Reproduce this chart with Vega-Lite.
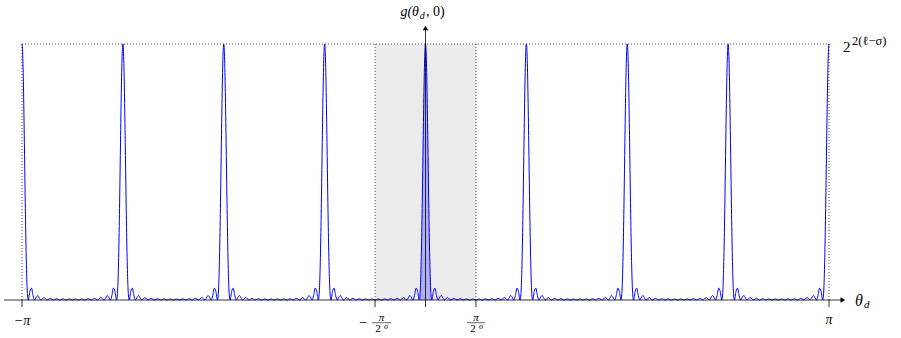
{
"$schema": "https://vega.github.io/schema/vega-lite/v6.json",
"width": 901, "height": 338, "autosize": {"type": "none"}, "padding": 0,
"background": "white",
"config": {"view": {"stroke": null}, "axis": {"disable": true}, "text": {"font": "Liberation Serif", "baseline": "middle", "color": "black"}},
"data": {"values": [{}]},
"datasets": {"g": [
{"x":0,"y":256},{"x":0.125,"y":243.16},{"x":0.25,"y":207.67},{"x":0.375,"y":157.72},{"x":0.5,"y":104.09},{"x":0.625,"y":56.96},{"x":0.75,"y":23.22},{"x":0.875,"y":5.01},{"x":1,"y":0},{"x":1.25,"y":8.47},{"x":1.5,"y":11.87},{"x":1.75,"y":4.41},{"x":2,"y":0},{"x":2.25,"y":2.74},{"x":2.5,"y":4.5},{"x":2.75,"y":1.89},{"x":3,"y":0},{"x":3.25,"y":1.41},{"x":3.5,"y":2.48},{"x":3.75,"y":1.11},{"x":4,"y":0},{"x":4.25,"y":0.91},{"x":4.5,"y":1.67},{"x":4.75,"y":0.78},{"x":5,"y":0},{"x":5.25,"y":0.68},{"x":5.5,"y":1.29},{"x":5.75,"y":0.61},{"x":6,"y":0},{"x":6.25,"y":0.56},{"x":6.5,"y":1.09},{"x":6.75,"y":0.53},{"x":7,"y":0},{"x":7.25,"y":0.51},{"x":7.5,"y":1.01},{"x":7.75,"y":0.5},{"x":8,"y":0},{"x":8.25,"y":0.5},{"x":8.5,"y":1.01},{"x":8.75,"y":0.51},{"x":9,"y":0},{"x":9.25,"y":0.53},{"x":9.5,"y":1.09},{"x":9.75,"y":0.56},{"x":10,"y":0},{"x":10.25,"y":0.61},{"x":10.5,"y":1.29},{"x":10.75,"y":0.68},{"x":11,"y":0},{"x":11.25,"y":0.78},{"x":11.5,"y":1.67},{"x":11.75,"y":0.91},{"x":12,"y":0},{"x":12.25,"y":1.11},{"x":12.5,"y":2.48},{"x":12.75,"y":1.41},{"x":13,"y":0},{"x":13.25,"y":1.89},{"x":13.5,"y":4.5},{"x":13.75,"y":2.74},{"x":14,"y":0},{"x":14.25,"y":4.41},{"x":14.5,"y":11.87},{"x":14.75,"y":8.47},{"x":15,"y":0},{"x":15.125,"y":5.01},{"x":15.25,"y":23.22},{"x":15.375,"y":56.96},{"x":15.5,"y":104.09},{"x":15.625,"y":157.72},{"x":15.75,"y":207.67},{"x":15.875,"y":243.16},
{"x":16,"y":256},{"x":16.125,"y":243.16},{"x":16.25,"y":207.67},{"x":16.375,"y":157.72},{"x":16.5,"y":104.09},{"x":16.625,"y":56.96},{"x":16.75,"y":23.22},{"x":16.875,"y":5.01},{"x":17,"y":0},{"x":17.25,"y":8.47},{"x":17.5,"y":11.87},{"x":17.75,"y":4.41},{"x":18,"y":0},{"x":18.25,"y":2.74},{"x":18.5,"y":4.5},{"x":18.75,"y":1.89},{"x":19,"y":0},{"x":19.25,"y":1.41},{"x":19.5,"y":2.48},{"x":19.75,"y":1.11},{"x":20,"y":0},{"x":20.25,"y":0.91},{"x":20.5,"y":1.67},{"x":20.75,"y":0.78},{"x":21,"y":0},{"x":21.25,"y":0.68},{"x":21.5,"y":1.29},{"x":21.75,"y":0.61},{"x":22,"y":0},{"x":22.25,"y":0.56},{"x":22.5,"y":1.09},{"x":22.75,"y":0.53},{"x":23,"y":0},{"x":23.25,"y":0.51},{"x":23.5,"y":1.01},{"x":23.75,"y":0.5},{"x":24,"y":0},{"x":24.25,"y":0.5},{"x":24.5,"y":1.01},{"x":24.75,"y":0.51},{"x":25,"y":0},{"x":25.25,"y":0.53},{"x":25.5,"y":1.09},{"x":25.75,"y":0.56},{"x":26,"y":0},{"x":26.25,"y":0.61},{"x":26.5,"y":1.29},{"x":26.75,"y":0.68},{"x":27,"y":0},{"x":27.25,"y":0.78},{"x":27.5,"y":1.67},{"x":27.75,"y":0.91},{"x":28,"y":0},{"x":28.25,"y":1.11},{"x":28.5,"y":2.48},{"x":28.75,"y":1.41},{"x":29,"y":0},{"x":29.25,"y":1.89},{"x":29.5,"y":4.5},{"x":29.75,"y":2.74},{"x":30,"y":0},{"x":30.25,"y":4.41},{"x":30.5,"y":11.87},{"x":30.75,"y":8.47},{"x":31,"y":0},{"x":31.125,"y":5.01},{"x":31.25,"y":23.22},{"x":31.375,"y":56.96},{"x":31.5,"y":104.09},{"x":31.625,"y":157.72},{"x":31.75,"y":207.67},{"x":31.875,"y":243.16},
{"x":32,"y":256},{"x":32.125,"y":243.16},{"x":32.25,"y":207.67},{"x":32.375,"y":157.72},{"x":32.5,"y":104.09},{"x":32.625,"y":56.96},{"x":32.75,"y":23.22},{"x":32.875,"y":5.01},{"x":33,"y":0},{"x":33.25,"y":8.47},{"x":33.5,"y":11.87},{"x":33.75,"y":4.41},{"x":34,"y":0},{"x":34.25,"y":2.74},{"x":34.5,"y":4.5},{"x":34.75,"y":1.89},{"x":35,"y":0},{"x":35.25,"y":1.41},{"x":35.5,"y":2.48},{"x":35.75,"y":1.11},{"x":36,"y":0},{"x":36.25,"y":0.91},{"x":36.5,"y":1.67},{"x":36.75,"y":0.78},{"x":37,"y":0},{"x":37.25,"y":0.68},{"x":37.5,"y":1.29},{"x":37.75,"y":0.61},{"x":38,"y":0},{"x":38.25,"y":0.56},{"x":38.5,"y":1.09},{"x":38.75,"y":0.53},{"x":39,"y":0},{"x":39.25,"y":0.51},{"x":39.5,"y":1.01},{"x":39.75,"y":0.5},{"x":40,"y":0},{"x":40.25,"y":0.5},{"x":40.5,"y":1.01},{"x":40.75,"y":0.51},{"x":41,"y":0},{"x":41.25,"y":0.53},{"x":41.5,"y":1.09},{"x":41.75,"y":0.56},{"x":42,"y":0},{"x":42.25,"y":0.61},{"x":42.5,"y":1.29},{"x":42.75,"y":0.68},{"x":43,"y":0},{"x":43.25,"y":0.78},{"x":43.5,"y":1.67},{"x":43.75,"y":0.91},{"x":44,"y":0},{"x":44.25,"y":1.11},{"x":44.5,"y":2.48},{"x":44.75,"y":1.41},{"x":45,"y":0},{"x":45.25,"y":1.89},{"x":45.5,"y":4.5},{"x":45.75,"y":2.74},{"x":46,"y":0},{"x":46.25,"y":4.41},{"x":46.5,"y":11.87},{"x":46.75,"y":8.47},{"x":47,"y":0},{"x":47.125,"y":5.01},{"x":47.25,"y":23.22},{"x":47.375,"y":56.96},{"x":47.5,"y":104.09},{"x":47.625,"y":157.72},{"x":47.75,"y":207.67},{"x":47.875,"y":243.16},
{"x":48,"y":256},{"x":48.125,"y":243.16},{"x":48.25,"y":207.67},{"x":48.375,"y":157.72},{"x":48.5,"y":104.09},{"x":48.625,"y":56.96},{"x":48.75,"y":23.22},{"x":48.875,"y":5.01},{"x":49,"y":0},{"x":49.25,"y":8.47},{"x":49.5,"y":11.87},{"x":49.75,"y":4.41},{"x":50,"y":0},{"x":50.25,"y":2.74},{"x":50.5,"y":4.5},{"x":50.75,"y":1.89},{"x":51,"y":0},{"x":51.25,"y":1.41},{"x":51.5,"y":2.48},{"x":51.75,"y":1.11},{"x":52,"y":0},{"x":52.25,"y":0.91},{"x":52.5,"y":1.67},{"x":52.75,"y":0.78},{"x":53,"y":0},{"x":53.25,"y":0.68},{"x":53.5,"y":1.29},{"x":53.75,"y":0.61},{"x":54,"y":0},{"x":54.25,"y":0.56},{"x":54.5,"y":1.09},{"x":54.75,"y":0.53},{"x":55,"y":0},{"x":55.25,"y":0.51},{"x":55.5,"y":1.01},{"x":55.75,"y":0.5},{"x":56,"y":0},{"x":56.25,"y":0.5},{"x":56.5,"y":1.01},{"x":56.75,"y":0.51},{"x":57,"y":0},{"x":57.25,"y":0.53},{"x":57.5,"y":1.09},{"x":57.75,"y":0.56},{"x":58,"y":0},{"x":58.25,"y":0.61},{"x":58.5,"y":1.29},{"x":58.75,"y":0.68},{"x":59,"y":0},{"x":59.25,"y":0.78},{"x":59.5,"y":1.67},{"x":59.75,"y":0.91},{"x":60,"y":0},{"x":60.25,"y":1.11},{"x":60.5,"y":2.48},{"x":60.75,"y":1.41},{"x":61,"y":0},{"x":61.25,"y":1.89},{"x":61.5,"y":4.5},{"x":61.75,"y":2.74},{"x":62,"y":0},{"x":62.25,"y":4.41},{"x":62.5,"y":11.87},{"x":62.75,"y":8.47},{"x":63,"y":0},{"x":63.125,"y":5.01},{"x":63.25,"y":23.22},{"x":63.375,"y":56.96},{"x":63.5,"y":104.09},{"x":63.625,"y":157.72},{"x":63.75,"y":207.67},{"x":63.875,"y":243.16},
{"x":64,"y":256},{"x":64.125,"y":243.16},{"x":64.25,"y":207.67},{"x":64.375,"y":157.72},{"x":64.5,"y":104.09},{"x":64.625,"y":56.96},{"x":64.75,"y":23.22},{"x":64.875,"y":5.01},{"x":65,"y":0},{"x":65.25,"y":8.47},{"x":65.5,"y":11.87},{"x":65.75,"y":4.41},{"x":66,"y":0},{"x":66.25,"y":2.74},{"x":66.5,"y":4.5},{"x":66.75,"y":1.89},{"x":67,"y":0},{"x":67.25,"y":1.41},{"x":67.5,"y":2.48},{"x":67.75,"y":1.11},{"x":68,"y":0},{"x":68.25,"y":0.91},{"x":68.5,"y":1.67},{"x":68.75,"y":0.78},{"x":69,"y":0},{"x":69.25,"y":0.68},{"x":69.5,"y":1.29},{"x":69.75,"y":0.61},{"x":70,"y":0},{"x":70.25,"y":0.56},{"x":70.5,"y":1.09},{"x":70.75,"y":0.53},{"x":71,"y":0},{"x":71.25,"y":0.51},{"x":71.5,"y":1.01},{"x":71.75,"y":0.5},{"x":72,"y":0},{"x":72.25,"y":0.5},{"x":72.5,"y":1.01},{"x":72.75,"y":0.51},{"x":73,"y":0},{"x":73.25,"y":0.53},{"x":73.5,"y":1.09},{"x":73.75,"y":0.56},{"x":74,"y":0},{"x":74.25,"y":0.61},{"x":74.5,"y":1.29},{"x":74.75,"y":0.68},{"x":75,"y":0},{"x":75.25,"y":0.78},{"x":75.5,"y":1.67},{"x":75.75,"y":0.91},{"x":76,"y":0},{"x":76.25,"y":1.11},{"x":76.5,"y":2.48},{"x":76.75,"y":1.41},{"x":77,"y":0},{"x":77.25,"y":1.89},{"x":77.5,"y":4.5},{"x":77.75,"y":2.74},{"x":78,"y":0},{"x":78.25,"y":4.41},{"x":78.5,"y":11.87},{"x":78.75,"y":8.47},{"x":79,"y":0},{"x":79.125,"y":5.01},{"x":79.25,"y":23.22},{"x":79.375,"y":56.96},{"x":79.5,"y":104.09},{"x":79.625,"y":157.72},{"x":79.75,"y":207.67},{"x":79.875,"y":243.16},
{"x":80,"y":256},{"x":80.125,"y":243.16},{"x":80.25,"y":207.67},{"x":80.375,"y":157.72},{"x":80.5,"y":104.09},{"x":80.625,"y":56.96},{"x":80.75,"y":23.22},{"x":80.875,"y":5.01},{"x":81,"y":0},{"x":81.25,"y":8.47},{"x":81.5,"y":11.87},{"x":81.75,"y":4.41},{"x":82,"y":0},{"x":82.25,"y":2.74},{"x":82.5,"y":4.5},{"x":82.75,"y":1.89},{"x":83,"y":0},{"x":83.25,"y":1.41},{"x":83.5,"y":2.48},{"x":83.75,"y":1.11},{"x":84,"y":0},{"x":84.25,"y":0.91},{"x":84.5,"y":1.67},{"x":84.75,"y":0.78},{"x":85,"y":0},{"x":85.25,"y":0.68},{"x":85.5,"y":1.29},{"x":85.75,"y":0.61},{"x":86,"y":0},{"x":86.25,"y":0.56},{"x":86.5,"y":1.09},{"x":86.75,"y":0.53},{"x":87,"y":0},{"x":87.25,"y":0.51},{"x":87.5,"y":1.01},{"x":87.75,"y":0.5},{"x":88,"y":0},{"x":88.25,"y":0.5},{"x":88.5,"y":1.01},{"x":88.75,"y":0.51},{"x":89,"y":0},{"x":89.25,"y":0.53},{"x":89.5,"y":1.09},{"x":89.75,"y":0.56},{"x":90,"y":0},{"x":90.25,"y":0.61},{"x":90.5,"y":1.29},{"x":90.75,"y":0.68},{"x":91,"y":0},{"x":91.25,"y":0.78},{"x":91.5,"y":1.67},{"x":91.75,"y":0.91},{"x":92,"y":0},{"x":92.25,"y":1.11},{"x":92.5,"y":2.48},{"x":92.75,"y":1.41},{"x":93,"y":0},{"x":93.25,"y":1.89},{"x":93.5,"y":4.5},{"x":93.75,"y":2.74},{"x":94,"y":0},{"x":94.25,"y":4.41},{"x":94.5,"y":11.87},{"x":94.75,"y":8.47},{"x":95,"y":0},{"x":95.125,"y":5.01},{"x":95.25,"y":23.22},{"x":95.375,"y":56.96},{"x":95.5,"y":104.09},{"x":95.625,"y":157.72},{"x":95.75,"y":207.67},{"x":95.875,"y":243.16},
{"x":96,"y":256},{"x":96.125,"y":243.16},{"x":96.25,"y":207.67},{"x":96.375,"y":157.72},{"x":96.5,"y":104.09},{"x":96.625,"y":56.96},{"x":96.75,"y":23.22},{"x":96.875,"y":5.01},{"x":97,"y":0},{"x":97.25,"y":8.47},{"x":97.5,"y":11.87},{"x":97.75,"y":4.41},{"x":98,"y":0},{"x":98.25,"y":2.74},{"x":98.5,"y":4.5},{"x":98.75,"y":1.89},{"x":99,"y":0},{"x":99.25,"y":1.41},{"x":99.5,"y":2.48},{"x":99.75,"y":1.11},{"x":100,"y":0},{"x":100.25,"y":0.91},{"x":100.5,"y":1.67},{"x":100.75,"y":0.78},{"x":101,"y":0},{"x":101.25,"y":0.68},{"x":101.5,"y":1.29},{"x":101.75,"y":0.61},{"x":102,"y":0},{"x":102.25,"y":0.56},{"x":102.5,"y":1.09},{"x":102.75,"y":0.53},{"x":103,"y":0},{"x":103.25,"y":0.51},{"x":103.5,"y":1.01},{"x":103.75,"y":0.5},{"x":104,"y":0},{"x":104.25,"y":0.5},{"x":104.5,"y":1.01},{"x":104.75,"y":0.51},{"x":105,"y":0},{"x":105.25,"y":0.53},{"x":105.5,"y":1.09},{"x":105.75,"y":0.56},{"x":106,"y":0},{"x":106.25,"y":0.61},{"x":106.5,"y":1.29},{"x":106.75,"y":0.68},{"x":107,"y":0},{"x":107.25,"y":0.78},{"x":107.5,"y":1.67},{"x":107.75,"y":0.91},{"x":108,"y":0},{"x":108.25,"y":1.11},{"x":108.5,"y":2.48},{"x":108.75,"y":1.41},{"x":109,"y":0},{"x":109.25,"y":1.89},{"x":109.5,"y":4.5},{"x":109.75,"y":2.74},{"x":110,"y":0},{"x":110.25,"y":4.41},{"x":110.5,"y":11.87},{"x":110.75,"y":8.47},{"x":111,"y":0},{"x":111.125,"y":5.01},{"x":111.25,"y":23.22},{"x":111.375,"y":56.96},{"x":111.5,"y":104.09},{"x":111.625,"y":157.72},{"x":111.75,"y":207.67},{"x":111.875,"y":243.16},
{"x":112,"y":256},{"x":112.125,"y":243.16},{"x":112.25,"y":207.67},{"x":112.375,"y":157.72},{"x":112.5,"y":104.09},{"x":112.625,"y":56.96},{"x":112.75,"y":23.22},{"x":112.875,"y":5.01},{"x":113,"y":0},{"x":113.25,"y":8.47},{"x":113.5,"y":11.87},{"x":113.75,"y":4.41},{"x":114,"y":0},{"x":114.25,"y":2.74},{"x":114.5,"y":4.5},{"x":114.75,"y":1.89},{"x":115,"y":0},{"x":115.25,"y":1.41},{"x":115.5,"y":2.48},{"x":115.75,"y":1.11},{"x":116,"y":0},{"x":116.25,"y":0.91},{"x":116.5,"y":1.67},{"x":116.75,"y":0.78},{"x":117,"y":0},{"x":117.25,"y":0.68},{"x":117.5,"y":1.29},{"x":117.75,"y":0.61},{"x":118,"y":0},{"x":118.25,"y":0.56},{"x":118.5,"y":1.09},{"x":118.75,"y":0.53},{"x":119,"y":0},{"x":119.25,"y":0.51},{"x":119.5,"y":1.01},{"x":119.75,"y":0.5},{"x":120,"y":0},{"x":120.25,"y":0.5},{"x":120.5,"y":1.01},{"x":120.75,"y":0.51},{"x":121,"y":0},{"x":121.25,"y":0.53},{"x":121.5,"y":1.09},{"x":121.75,"y":0.56},{"x":122,"y":0},{"x":122.25,"y":0.61},{"x":122.5,"y":1.29},{"x":122.75,"y":0.68},{"x":123,"y":0},{"x":123.25,"y":0.78},{"x":123.5,"y":1.67},{"x":123.75,"y":0.91},{"x":124,"y":0},{"x":124.25,"y":1.11},{"x":124.5,"y":2.48},{"x":124.75,"y":1.41},{"x":125,"y":0},{"x":125.25,"y":1.89},{"x":125.5,"y":4.5},{"x":125.75,"y":2.74},{"x":126,"y":0},{"x":126.25,"y":4.41},{"x":126.5,"y":11.87},{"x":126.75,"y":8.47},{"x":127,"y":0},{"x":127.125,"y":5.01},{"x":127.25,"y":23.22},{"x":127.375,"y":56.96},{"x":127.5,"y":104.09},{"x":127.625,"y":157.72},{"x":127.75,"y":207.67},{"x":127.875,"y":243.16},
{"x":128,"y":256}
]},
"layer": [
{"mark": {"type": "rect", "color": "#ebebeb"},
 "encoding": {"x": {"datum": 56, "type": "quantitative", "scale": {"domain": [-3.49, 139.42], "nice": false, "zero": false}, "axis": null}, "x2": {"datum": 72},
  "y": {"datum": 0, "type": "quantitative", "scale": {"domain": [-38, 300], "nice": false, "zero": false}, "axis": null}, "y2": {"datum": 256}}},
{"data": {"values": [{"x": 0}, {"x": 56}, {"x": 72}, {"x": 128}]},
 "mark": {"type": "rule", "color": "#222", "strokeWidth": 0.8, "strokeDash": [1, 2]},
 "encoding": {"x": {"field": "x", "type": "quantitative"}, "y": {"datum": 0, "type": "quantitative"}, "y2": {"datum": 256}}},
{"mark": {"type": "rule", "color": "#222", "strokeWidth": 0.8, "strokeDash": [1, 2]},
 "encoding": {"x": {"datum": 0, "type": "quantitative"}, "x2": {"datum": 128}, "y": {"datum": 256, "type": "quantitative"}}},
{"data": {"name": "g"}, "transform": [{"filter": "datum.x >= 63 && datum.x <= 65"}],
 "mark": {"type": "area", "color": "#0000ff", "opacity": 0.25, "interpolate": "monotone"},
 "encoding": {"x": {"field": "x", "type": "quantitative"}, "y": {"field": "y", "type": "quantitative"}, "y2": {"datum": 0}}},
{"data": {"name": "g"},
 "mark": {"type": "line", "color": "#0000ff", "strokeWidth": 1, "interpolate": "monotone"},
 "encoding": {"x": {"field": "x", "type": "quantitative"}, "y": {"field": "y", "type": "quantitative"}}},
{"mark": {"type": "rule", "color": "black", "strokeWidth": 0.8},
 "encoding": {"x": {"datum": -2.86, "type": "quantitative"}, "x2": {"datum": 130}, "y": {"datum": 0, "type": "quantitative"}}},
{"mark": {"type": "rule", "color": "black", "strokeWidth": 0.8},
 "encoding": {"x": {"datum": 64, "type": "quantitative"}, "y": {"datum": -7, "type": "quantitative"}, "y2": {"datum": 272}}},
{"data": {"values": [{"x": 0}, {"x": 56}, {"x": 72}, {"x": 128}]},
 "mark": {"type": "rule", "color": "black", "strokeWidth": 0.8},
 "encoding": {"x": {"field": "x", "type": "quantitative"}, "y": {"datum": -7, "type": "quantitative"}, "y2": {"datum": 0}}},
{"mark": {"type": "point", "shape": "triangle-right", "filled": true, "color": "black", "size": 30, "opacity": 1},
 "encoding": {"x": {"datum": 130.2, "type": "quantitative"}, "y": {"datum": 0, "type": "quantitative"}}},
{"mark": {"type": "point", "shape": "triangle-up", "filled": true, "color": "black", "size": 30, "opacity": 1},
 "encoding": {"x": {"datum": 64, "type": "quantitative"}, "y": {"datum": 272, "type": "quantitative"}}},
{"mark": {"type": "text", "fontSize": 14, "fontStyle": "italic", "align": "center"},
 "encoding": {"x": {"datum": 0, "type": "quantitative"}, "y": {"datum": -21, "type": "quantitative"}, "text": {"value": "−π"}}},
{"mark": {"type": "text", "fontSize": 14, "fontStyle": "italic", "align": "center"},
 "encoding": {"x": {"datum": 128, "type": "quantitative"}, "y": {"datum": -20, "type": "quantitative"}, "text": {"value": "π"}}},
{"mark": {"type": "text", "fontSize": 14, "align": "center"},
 "encoding": {"x": {"datum": 54.1, "type": "quantitative"}, "y": {"datum": -22.5, "type": "quantitative"}, "text": {"value": "−"}}},
{"mark": {"type": "text", "fontSize": 11, "fontStyle": "italic", "align": "center"},
 "encoding": {"x": {"datum": 57.02, "type": "quantitative"}, "y": {"datum": -18, "type": "quantitative"}, "text": {"value": "π"}}},
{"mark": {"type": "text", "fontSize": 11, "fontStyle": "italic", "align": "center"},
 "encoding": {"x": {"datum": 72, "type": "quantitative"}, "y": {"datum": -18, "type": "quantitative"}, "text": {"value": "π"}}},
{"mark": {"type": "rule", "color": "black", "strokeWidth": 0.6},
 "encoding": {"x": {"datum": 55.51, "type": "quantitative"}, "x2": {"datum": 58.53}, "y": {"datum": -22.7, "type": "quantitative"}}},
{"mark": {"type": "rule", "color": "black", "strokeWidth": 0.6},
 "encoding": {"x": {"datum": 70.58, "type": "quantitative"}, "x2": {"datum": 73.44}, "y": {"datum": -22.7, "type": "quantitative"}}},
{"mark": {"type": "text", "fontSize": 11, "align": "center"},
 "encoding": {"x": {"datum": 56.47, "type": "quantitative"}, "y": {"datum": -29, "type": "quantitative"}, "text": {"value": "2"}}},
{"mark": {"type": "text", "fontSize": 11, "align": "center"},
 "encoding": {"x": {"datum": 71.53, "type": "quantitative"}, "y": {"datum": -29, "type": "quantitative"}, "text": {"value": "2"}}},
{"mark": {"type": "text", "fontSize": 8, "fontStyle": "italic", "align": "center"},
 "encoding": {"x": {"datum": 57.73, "type": "quantitative"}, "y": {"datum": -26.5, "type": "quantitative"}, "text": {"value": "σ"}}},
{"mark": {"type": "text", "fontSize": 8, "fontStyle": "italic", "align": "center"},
 "encoding": {"x": {"datum": 72.8, "type": "quantitative"}, "y": {"datum": -26.5, "type": "quantitative"}, "text": {"value": "σ"}}},
{"mark": {"type": "text", "fontSize": 14, "fontStyle": "italic", "align": "right"},
 "encoding": {"x": {"datum": 62.97, "type": "quantitative"}, "y": {"datum": 288, "type": "quantitative"}, "text": {"value": "g(θ"}}},
{"mark": {"type": "text", "fontSize": 10, "fontStyle": "italic", "align": "left"},
 "encoding": {"x": {"datum": 63.1, "type": "quantitative"}, "y": {"datum": 284, "type": "quantitative"}, "text": {"value": "d"}}},
{"mark": {"type": "text", "fontSize": 14, "align": "left"},
 "encoding": {"x": {"datum": 64.08, "type": "quantitative"}, "y": {"datum": 288, "type": "quantitative"}, "text": {"value": ", 0)"}}},
{"mark": {"type": "text", "fontSize": 16, "fontStyle": "italic", "align": "left"},
 "encoding": {"x": {"datum": 132.12, "type": "quantitative"}, "y": {"datum": -1, "type": "quantitative"}, "text": {"value": "θ"}}},
{"mark": {"type": "text", "fontSize": 11, "fontStyle": "italic", "align": "left"},
 "encoding": {"x": {"datum": 133.55, "type": "quantitative"}, "y": {"datum": -5, "type": "quantitative"}, "text": {"value": "d"}}},
{"mark": {"type": "text", "fontSize": 15, "align": "left"},
 "encoding": {"x": {"datum": 130.22, "type": "quantitative"}, "y": {"datum": 253, "type": "quantitative"}, "text": {"value": "2"}}},
{"mark": {"type": "text", "fontSize": 12.5, "align": "left"},
 "encoding": {"x": {"datum": 131.65, "type": "quantitative"}, "y": {"datum": 259, "type": "quantitative"}, "text": {"value": "2(ℓ−σ)"}}}
]
}
